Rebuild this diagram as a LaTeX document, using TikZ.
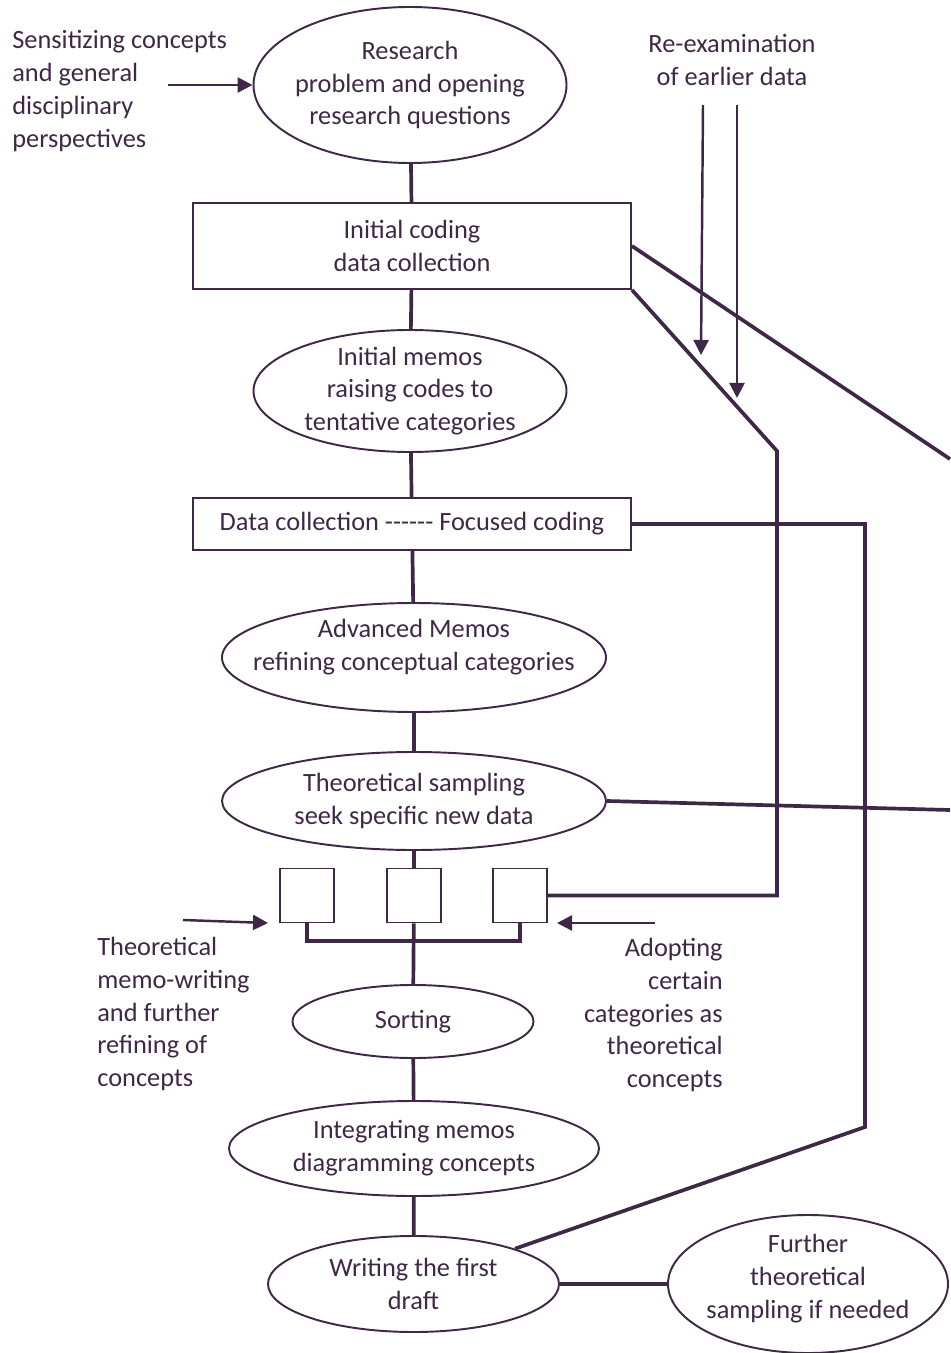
\documentclass[tikz,border=0pt]{standalone}
\usepackage{fontspec}
\setmainfont{Carlito}
\usetikzlibrary{shapes.geometric,arrows.meta}
\definecolor{plum}{RGB}{62,40,70}
\tikzset{
  oval/.style={draw=plum, line width=1.1pt, ellipse, inner sep=-0.5cm, align=center},
  stagebox/.style={draw=plum, line width=1.1pt, rectangle, inner sep=0pt, align=center},
  smallbox/.style={draw=plum, line width=1.1pt, rectangle, minimum size=1.08cm, inner sep=0pt},
  link/.style={draw=plum, line width=2.1pt},
  arr/.style={draw=plum, line width=1.4pt, -{Triangle[length=0.3cm,width=0.3cm]}}
}
\begin{document}
\begin{tikzpicture}[font=\fontsize{15}{18.7}\selectfont, text=plum]
\useasboundingbox (0,0) rectangle (19,-27.06);

% Main column of stages
\node[oval, minimum width=6.26cm, minimum height=3.12cm] (res) at (8.2, -1.7) {Research\\problem and opening\\research questions};
\node[stagebox, minimum width=8.76cm, minimum height=1.72cm] (init) at (8.24, -4.92) {Initial coding\\data collection};
\node[oval, minimum width=6.26cm, minimum height=2.44cm] (memo) at (8.2, -7.82) {Initial memos\\raising codes to\\tentative categories};
\node[stagebox, minimum width=8.76cm, minimum height=1.04cm] (focus) at (8.24, -10.48) {Data collection -{}-{}-{}-{}-{}- Focused coding};
\node[oval, minimum width=7.68cm, minimum height=2.18cm, text depth=0.5cm] (adv) at (8.28, -13.15) {Advanced Memos\\refining conceptual categories};
\node[oval, minimum width=7.68cm, minimum height=1.96cm] (tsamp) at (8.28, -16.02) {Theoretical sampling\\seek specific new data};
\node[smallbox] (lbox) at (6.14, -17.91) {};
\node[smallbox] (mbox) at (8.28, -17.91) {};
\node[smallbox] (rbox) at (10.4, -17.91) {};
\node[oval, minimum width=4.82cm, minimum height=1.46cm] (sort) at (8.26, -20.43) {Sorting};
\node[oval, minimum width=7.4cm, minimum height=1.9cm] (integ) at (8.28, -22.97) {Integrating memos\\diagramming concepts};
\node[oval, minimum width=5.82cm, minimum height=1.92cm] (write) at (8.27, -25.68) {Writing the first\\draft};
\node[oval, minimum width=5.6cm, minimum height=2.76cm, text depth=0.3cm] (further) at (16.16, -25.68) {Further\\theoretical\\sampling if needed};

% Side texts
\node[anchor=west, align=left, inner sep=0pt] (sens) at (0.24, -1.82) {Sensitizing concepts\\and general\\disciplinary\\perspectives};
\node[align=center, inner sep=0pt] (reexam) at (14.64, -1.2) {Re-examination\\of earlier data};
\node[anchor=west, align=left, inner sep=0pt] (memowrite) at (1.94, -20.28) {Theoretical\\memo-writing\\and further\\refining of\\concepts};
\node[anchor=east, align=right, inner sep=0pt] (adopt) at (14.46, -20.3) {Adopting\\certain\\categories as\\theoretical\\concepts};

% Arrow ends
\coordinate (sensarr) at (3.36, -1.7);
\coordinate (re1top) at (14.06, -2.1);
\coordinate (re1end) at (14.02, -7.1);
\coordinate (re2top) at (14.74, -2.1);
\coordinate (re2end) at (14.74, -7.96);
\coordinate (larr) at (3.66, -18.4);
\coordinate (larrend) at (5.36, -18.46);
\coordinate (rarr) at (13.1, -18.46);
\coordinate (rarrend) at (11.14, -18.46);

% Vertical links
\draw[link] (res) -- (init);
\draw[link] (init) -- (memo);
\draw[link] (memo) -- (focus);
\draw[link] (focus) -- (adv);
\draw[link] (adv) -- (tsamp);
\draw[link] (tsamp) -- (mbox);
\draw[link] (mbox) -- (sort);
\draw[link] (lbox.south) -- ++(0,-0.35) -| (rbox.south);
\draw[link] (sort) -- (integ);
\draw[link] (integ) -- (write);
\draw[link] (write) -- (further);

% Feedback lines
\draw[link] (init.south east) -- (15.54, -9.02) |- (rbox.east);
\draw[link] (init.east) -- (19, -9.18);
\draw[link] (focus.east) -| (17.3, -22.54) -- (write);
\draw[link] (tsamp.east) -- (19, -16.2);

% Arrows
\draw[arr] (sensarr) -- (res.west);
\draw[arr] (re1top) -- (re1end);
\draw[arr] (re2top) -- (re2end);
\draw[arr] (larr) -- (larrend);
\draw[arr] (rarr) -- (rarrend);
\end{tikzpicture}
\end{document}
